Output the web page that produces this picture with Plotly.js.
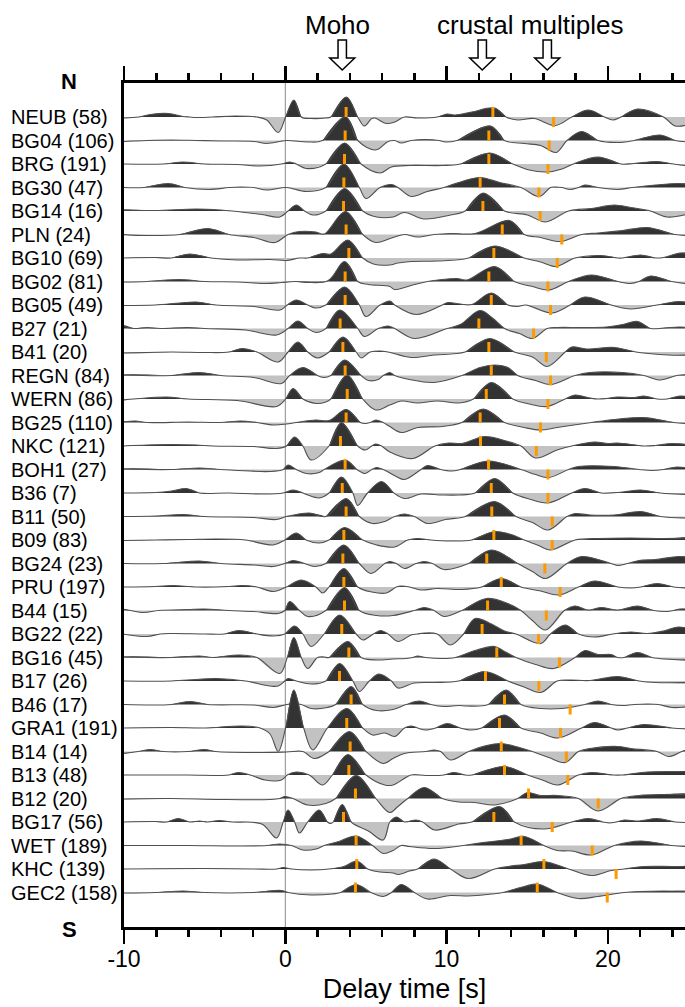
<!DOCTYPE html>
<html><head><meta charset="utf-8">
<script src="https://cdn.plot.ly/plotly-3.0.1.min.js"></script>
<style>html,body{margin:0;padding:0;background:#fff}</style>
</head><body><div id="chart" style="width:685px;height:1007px"></div>
<script>
// ---------------- data ----------------
const stations = ['NEUB','BG04','BRG','BG30','BG14','PLN','BG10','BG02','BG05','B27','B41','REGN','WERN','BG25','NKC','BOH1','B36','B11','B09','BG24','PRU','B44','BG22','BG16','B17','B46','GRA1','B14','B13','B12','BG17','WET','KHC','GEC2'];
const eventCounts = [58,106,191,47,16,24,69,81,49,21,20,84,86,110,121,27,7,50,83,23,197,15,22,45,26,17,191,14,48,20,56,189,139,158];
// picked phase times [s]
const psMoho = [3.77,3.71,3.67,3.63,3.61,3.77,3.94,3.71,3.71,3.40,3.57,3.71,3.84,3.77,3.42,3.71,3.53,3.77,3.63,3.57,3.63,3.67,3.50,3.94,3.36,4.08,3.81,4.02,3.94,4.35,3.61,4.39,4.43,4.35];
const ppps   = [12.87,12.62,12.62,12.08,12.25,13.45,12.93,12.62,12.77,12.0,12.62,12.77,12.46,12.08,12.10,12.6,12.77,12.8,12.93,12.49,13.39,12.54,12.2,13.11,12.41,13.59,13.28,13.39,13.59,15.08,12.93,14.62,16.03,15.62];
const ppss   = [16.63,16.36,16.28,15.72,15.8,17.14,16.86,16.28,16.44,15.39,16.18,16.44,16.28,15.82,15.56,16.28,16.28,16.55,16.55,16.09,17.04,16.18,15.7,17.0,15.72,17.66,17.06,17.42,17.51,19.4,16.55,19.03,20.51,19.96];
const arrowTimes = [3.53, 12.21, 16.24];
const topLabels = ['Moho', 'crustal multiples'];
const xTickVals = [-10, 0, 10, 20];
const xTickText = ['-10', '0', '10', '20'];
const xMinorVals = [-8,-6,-4,-2,2,4,6,8,12,14,16,18,22,24];

// waveforms: [delay time s, amplitude]
const w_NEUB = [[-10.1,-1],[-9.08,0],[-8.37,2.5],[-7.25,3.5],[-6.34,0.5],[-5.93,0],[-5.52,-0.5],[-4.51,0],[-3.08,1],[-1.76,0],[-1.15,-3],[-0.44,-15.5],[0.02,0],[0.53,17],[0.99,0],[1.6,-1.5],[2.51,-1],[2.82,0],[3.78,20],[4.49,0],[4.9,-9],[5.36,-1.5],[5.56,-1],[6.27,-6.5],[6.78,-5],[7.39,0],[8.2,-1],[9.42,0],[10.03,3],[10.54,2],[11.56,5],[12.98,9],[13.69,0],[14.41,-3],[15.42,-1.5],[16.74,-8.5],[17.76,0],[18.78,7],[19.79,0],[20.3,-3],[20.81,0],[21.83,8],[23.45,0],[24.17,-9],[25.08,-7]];
const w_BG04 = [[-10.1,-1],[-8.57,0],[-7.05,0.5],[-5.52,0],[-4.0,-0.5],[-1.96,-1],[-1.15,-3],[0.07,0],[1.39,-1.5],[2.31,0],[3.73,24],[4.49,0],[5.61,-9.5],[6.37,-1],[6.78,0],[7.19,-2.5],[7.8,0],[8.71,1],[9.53,0],[9.93,-1.5],[10.64,0],[12.73,14.5],[13.59,0],[14.81,-3],[15.83,-5],[16.79,-12],[17.46,0],[18.37,9],[19.39,0],[20.61,-2],[21.62,0],[23.25,5.5],[24.17,0],[25.08,-1.5]];
const w_BRG = [[-10.1,0],[-7.56,0],[-6.34,2],[-5.01,0],[-2.98,-0.5],[-1.56,-2],[-0.24,0],[0.27,2],[0.68,0],[1.29,-4.5],[2.51,0],[3.68,21],[4.7,0],[5.87,-9],[6.58,-3],[7.7,-1.5],[9.73,-1.5],[10.85,0],[12.68,11],[14.1,0],[15.12,-6],[16.24,-8],[17.15,-5],[17.86,0],[19.39,7],[20.81,0],[21.62,0.5],[23.05,2.5],[24.07,0],[25.08,-2]];
const w_BG30 = [[-10.1,0],[-8.78,0],[-7.25,4],[-6.23,0],[-4.71,-2],[-3.49,0],[-2.78,0.5],[-1.96,0],[-1.15,-2.5],[0.07,0],[1.29,-4],[2.51,0],[3.63,23.5],[4.59,0],[5.0,-11],[5.87,0],[6.58,3],[6.98,0],[7.8,-9],[8.81,-4],[9.83,0],[10.75,5],[12.07,10],[13.29,5],[14.61,0],[15.73,-9],[16.44,0],[16.74,0.5],[17.15,0],[17.66,-2],[18.17,0],[18.57,2.5],[19.39,0],[20.61,-2],[21.52,0],[22.95,2.5],[24.37,4],[25.08,3]];
const w_BG14 = [[-10.1,1],[-8.06,0.5],[-5.52,2],[-4.0,1],[-3.29,0],[-1.46,-3.5],[-0.34,-6],[0.17,0],[0.68,6],[1.19,0],[1.7,-4],[2.51,0],[3.68,22.5],[4.8,0],[5.66,-6],[6.68,-6],[7.39,-1.5],[8.61,-8],[10.24,-4],[11.15,0],[12.27,18],[13.59,0],[15.02,-4],[16.13,-11],[17.56,0],[18.98,2.5],[20.4,6],[21.42,3.5],[22.64,0],[23.66,-6],[25.08,-2.5]];
const w_PLN = [[-10.1,0],[-8.57,-1],[-6.54,0],[-4.81,6],[-3.49,0],[-1.96,-3],[-0.64,-8],[0.17,0],[0.88,3],[1.9,2.5],[2.41,0.5],[3.73,23],[4.8,0],[5.61,-8],[6.68,-3],[7.39,0],[8.2,-2.5],[9.22,0],[10.24,1],[11.76,1],[13.9,14],[14.81,0],[15.83,-3],[17.05,-7],[18.37,0],[19.39,1.5],[20.91,4],[22.44,7],[24.17,0],[25.08,-1]];
const w_BG10 = [[-10.1,0],[-8.06,0.5],[-7.05,0],[-5.93,4],[-4.61,0],[-2.98,-2],[-0.95,-1.5],[0.07,-2.5],[0.88,0],[1.39,0],[2.31,4.5],[2.82,4],[3.88,18],[4.8,0],[5.46,-6],[6.48,-7],[6.98,-5],[7.8,-3.5],[9.42,-3],[11.36,0],[12.98,12],[14.81,0],[15.83,-4],[16.79,-8.5],[17.96,0],[19.59,2.5],[20.61,0],[20.91,0],[22.03,3],[22.95,0],[23.45,0.5],[24.47,5],[25.08,4]];
const w_BG02 = [[-10.1,-0.5],[-8.57,0],[-6.54,2],[-5.01,0],[-2.98,-0.5],[-1.15,-2],[-0.24,-1],[0.58,0],[2.61,0.5],[3.68,20],[4.49,0],[5.15,-3],[6.48,-5],[6.78,-8],[7.8,-4],[8.81,0],[9.73,2],[10.64,3],[11.25,1.5],[12.98,15],[14.2,0],[15.32,-5],[16.34,-8.5],[17.56,0],[18.98,6.5],[20.61,0],[21.42,-2],[21.93,0],[22.64,5.5],[23.96,0],[25.08,-2.5]];
const w_BG05 = [[-10.1,-0.5],[-8.06,0],[-6.54,2],[-5.52,3],[-4.3,0],[-1.96,-1.5],[-0.34,-5],[0.12,0],[0.68,5],[1.39,0],[1.9,-3],[2.51,0],[3.68,18],[4.59,0],[5.0,-11.5],[5.87,0],[6.48,4],[6.78,0],[8.1,-9.5],[9.73,0],[10.08,2.5],[10.85,1],[11.56,0.5],[12.78,12],[13.8,0],[14.41,-1.5],[14.91,0],[16.54,-8],[17.66,0],[18.57,8],[20.2,0],[21.42,-4],[23.05,0],[24.37,3.5],[25.08,2]];
const w_B27 = [[-10.1,3],[-9.39,0],[-8.57,1],[-7.76,0],[-6.03,1],[-5.01,0],[-2.47,-1.5],[-0.54,-6.5],[0.17,0],[0.78,7.5],[1.39,0],[1.9,-4],[2.51,0],[3.37,18.5],[4.49,0],[4.9,-8],[5.76,0],[6.37,2.5],[6.78,0],[8.0,-10],[10.03,0],[10.85,4],[12.07,18],[12.88,10],[13.59,0],[14.51,-5],[15.32,-10],[16.24,0],[16.85,1],[18.37,1],[19.9,1.5],[20.91,4],[21.83,7],[22.64,0],[23.45,0.5],[24.47,1.5],[25.08,0.5]];
const w_B41 = [[-10.1,-1],[-7.05,0],[-5.01,-0.5],[-3.49,0],[-2.68,3.5],[-1.76,0],[-0.44,-10],[0.17,0],[0.78,10],[1.39,0],[2.0,-6],[2.71,0],[3.58,15],[4.39,0],[4.7,-6],[5.26,0],[5.87,1],[6.37,0],[7.8,-5.5],[9.22,-3],[11.15,0],[12.68,13.5],[14.2,0],[15.32,-5],[16.24,-14.5],[17.35,0],[17.76,5],[18.68,3],[20.4,4.5],[21.73,0],[23.76,-3],[25.08,-3]];
const w_REGN = [[-10.1,0.5],[-7.05,0],[-5.32,3],[-4.0,0],[-1.96,-2],[-0.24,-8],[0.27,0],[1.09,8],[2.0,0],[2.41,-2],[2.82,0],[3.68,15.5],[4.7,0],[5.15,-5],[5.76,-4],[6.07,0],[6.48,3],[6.78,0],[7.7,-4],[9.22,-7],[10.95,0],[12.07,8],[12.98,10.5],[13.8,8],[14.41,0],[15.52,-5],[16.44,-9],[17.96,0],[18.88,3],[20.91,3],[22.23,0],[23.25,-4.5],[24.27,0],[25.08,1]];
const w_WERN = [[-10.1,-1],[-9.39,0],[-7.35,2],[-6.03,0],[-2.98,-1.5],[-0.54,-7.5],[0.02,0],[0.48,10.5],[1.09,0],[1.9,-4.5],[2.51,-3],[2.82,0],[3.83,24],[4.8,0],[5.61,-11],[6.48,-6],[7.19,-2],[8.2,-4],[9.42,-2],[10.75,-4],[11.66,0],[12.78,16.5],[14.1,0],[15.12,-5],[16.24,-7.5],[17.35,0],[17.96,4],[18.88,1],[19.39,0],[19.9,0.5],[20.61,2],[21.62,1.5],[22.23,3],[23.05,0],[23.66,0],[24.47,3],[25.08,2]];
const w_BG25 = [[-10.1,0.5],[-9.28,1.5],[-8.57,0],[-6.03,0.5],[-4.0,0],[-2.78,1.5],[-1.76,0],[-0.74,-2.5],[0.07,-1.5],[0.68,0],[1.9,2.5],[2.71,2],[3.78,13],[4.65,0],[4.95,-1],[5.26,0],[5.61,2.5],[6.07,0],[6.48,-4],[7.19,-10],[8.2,-5],[9.73,-4],[10.95,0],[12.27,13.5],[13.59,0],[14.81,-5],[15.83,-7.5],[16.85,-5],[18.98,0],[20.4,3],[22.23,5],[24.07,0],[25.08,-1]];
const w_NKC = [[-10.1,0],[-8.57,1],[-7.05,1.5],[-5.52,1],[-4.51,0],[-1.96,-0.5],[-0.54,-2.5],[0.07,0],[0.58,9],[1.09,0],[1.6,-14],[2.71,0],[3.48,23.5],[4.49,0],[4.95,-4],[5.36,0],[5.61,2],[5.97,0],[6.48,-6],[7.9,-12.5],[9.27,0],[10.14,3],[10.95,2.5],[12.37,9.5],[13.69,5],[14.61,0],[15.52,-12],[16.85,-4],[17.76,0],[19.18,4],[20.0,2.5],[20.61,3],[22.23,0],[22.95,0.5],[23.96,2.5],[25.08,1]];
const w_BOH1 = [[-10.1,0.5],[-7.05,0],[-5.32,1.5],[-4.0,0],[-0.95,-2],[-0.13,0],[0.17,4.5],[0.68,0],[1.29,-4],[2.1,-3],[2.41,0],[3.73,9.5],[4.44,0],[4.95,-4],[5.36,0],[5.66,2],[6.07,0],[6.88,-7],[7.39,-10],[8.41,0],[8.81,4],[9.63,0],[10.34,-1.5],[10.85,0],[12.58,8.5],[14.61,0],[15.52,-5],[16.34,-8],[17.56,0],[18.17,3],[20.4,3],[21.93,0],[22.74,-1],[23.45,0],[24.27,2.5],[25.08,1]];
const w_B36 = [[-10.1,0],[-8.06,0.5],[-7.05,2],[-6.13,4.5],[-5.32,0],[-3.49,0],[-1.46,-1],[-0.13,0],[0.48,3],[1.09,0],[1.39,-2],[2.1,-5],[2.71,0],[3.48,16],[4.19,0],[4.49,-12.5],[5.1,0],[5.97,11.5],[6.73,0],[7.39,-5.5],[8.41,-1],[9.73,-2],[10.75,-2],[11.76,0],[12.98,14.5],[14.1,0],[15.12,-6],[16.29,-10],[17.76,0],[18.57,4.5],[19.59,0],[20.91,1],[22.03,3],[23.25,0],[25.08,-1.5]];
const w_B11 = [[-10.1,0],[-8.06,0.5],[-6.34,2],[-5.01,0],[-1.96,-1],[-0.54,-3],[0.07,0],[1.49,3.5],[2.51,0],[3.78,18],[4.59,0],[5.41,-7],[6.17,-5],[6.78,0],[7.39,2.5],[8.0,0],[8.81,-7],[9.93,-3],[11.15,0],[12.98,15],[14.3,0],[15.32,-6],[16.29,-13.5],[17.46,0],[17.96,3],[18.88,1.5],[20.4,1.5],[22.03,5],[23.25,0],[25.08,-1.5]];
const w_B09 = [[-10.1,-0.5],[-8.06,0],[-6.03,0.5],[-4.3,1],[-2.47,0],[-0.74,-5],[-0.03,0],[0.68,7],[1.29,0],[2.1,-3],[2.71,0],[3.68,12.5],[4.8,0],[5.66,-5],[6.78,-7],[7.59,0],[8.2,1.5],[9.02,0],[10.24,-1],[11.56,0],[12.98,8.5],[14.1,5],[14.81,0],[15.63,-5],[16.44,-10],[17.96,0],[19.39,1.5],[21.42,2],[23.45,1.5],[25.08,2]];
const w_BG24 = [[-10.1,0],[-7.56,0],[-5.32,2.5],[-4.0,0],[-1.96,-1.5],[-0.74,-3],[-0.03,0],[0.48,3],[1.19,0],[1.8,-3],[2.51,0],[3.63,18.5],[4.59,0],[5.31,-10],[6.17,0],[6.48,2],[6.88,0],[7.39,-5],[8.1,0],[8.61,2],[9.12,0],[9.83,-6],[11.36,0],[12.78,13.5],[14.41,0],[15.32,-8],[16.13,-15],[17.46,0],[18.37,7],[20.2,0],[20.61,-2],[21.22,0],[21.93,3],[22.95,4],[24.37,7],[25.08,6]];
const w_PRU = [[-10.1,0],[-8.06,0.5],[-6.95,1.5],[-5.52,0],[-3.49,0.5],[-2.68,1.5],[-1.76,0],[-0.74,-4.5],[0.07,0],[0.99,7],[1.9,0],[2.31,-6],[2.71,0],[3.63,18.5],[4.49,0],[5.36,-5],[6.27,-6],[6.88,0],[7.19,1],[7.7,0],[8.41,-3],[9.42,-1.5],[10.95,-2.5],[12.17,0],[13.39,8.5],[14.61,0],[15.83,-4],[16.95,-8],[18.17,0],[19.18,6],[20.61,0],[21.42,-1],[22.03,0],[23.05,3.5],[24.07,0],[25.08,-1]];
const w_B44 = [[-10.1,1.5],[-9.59,0],[-8.78,-2],[-7.86,0],[-6.03,1],[-5.01,1.5],[-3.49,0],[-1.96,-1],[-0.44,-3],[-0.03,0],[0.27,9],[0.88,0],[1.39,-6],[2.51,0],[3.68,23],[4.59,0],[5.66,-5],[6.68,-5],[8.0,0],[8.61,3],[9.22,0],[9.83,-6],[10.95,0],[12.47,12],[13.8,7],[14.61,0],[15.32,-10],[16.13,-19.5],[17.3,0],[17.96,4.5],[18.78,0.5],[19.59,3],[20.61,0.5],[21.83,4.5],[22.84,0],[23.66,-1],[24.07,0],[24.47,1.5],[25.08,1]];
const w_BG22 = [[-10.1,0],[-8.57,-2.5],[-7.76,0],[-7.05,0.5],[-5.01,0],[-3.79,0],[-2.88,3.5],[-1.76,0],[-0.74,-2],[-0.03,0],[0.58,8],[1.09,0],[1.6,-12.5],[2.41,0],[3.37,19],[4.39,0],[4.8,-6],[5.46,0],[5.92,3.5],[6.37,0],[6.98,-7.5],[7.8,-1],[8.2,0],[8.61,1],[9.42,0],[10.24,-11],[11.05,0],[11.76,15.5],[12.78,10],[13.59,3],[14.3,0],[15.83,-9.5],[16.44,0],[17.35,9],[18.17,0],[19.18,-3],[20.3,0],[21.42,2],[22.44,0.5],[23.45,3],[24.37,7],[25.08,5]];
const w_BG16 = [[-10.1,0.5],[-7.05,0],[-5.32,1.5],[-4.51,0],[-2.88,2.5],[-1.76,0],[-0.34,-16],[0.12,0],[0.53,20],[0.99,0],[1.39,-11],[2.0,0],[2.41,0.5],[2.71,0],[3.88,16],[4.7,0],[5.66,-2.5],[6.68,-1.5],[7.49,-1],[7.9,0],[8.2,1.5],[8.71,0],[9.73,-1],[10.54,0],[11.76,7],[12.98,11],[13.59,6],[14.3,0],[15.52,-7],[16.64,-11],[17.96,0],[18.57,7],[19.39,3],[20.2,3],[20.61,0],[21.01,0],[21.83,5],[22.74,0],[25.08,-2.5]];
const w_B17 = [[-10.1,0],[-7.05,0],[-5.52,1.5],[-4.3,2.5],[-2.47,0],[-0.95,-5],[-0.44,-5],[-0.03,0],[0.17,2.5],[0.68,0],[1.6,-3],[2.51,0],[3.37,17.5],[4.19,0],[4.59,-10.5],[5.21,0],[5.81,7],[6.58,0],[6.98,-7],[8.0,-2],[9.22,-1.5],[10.75,0],[12.37,9.5],[13.8,0],[14.81,-6],[15.83,-11.5],[16.85,0],[17.66,1],[18.88,0.5],[20.61,4.5],[21.93,0],[22.95,-1.5],[25.08,-1.5]];
const w_B46 = [[-10.1,0],[-7.05,0],[-5.93,3],[-4.81,0],[-1.96,-0.5],[-0.74,-3],[0.07,0],[0.48,1],[0.99,0],[1.6,-4],[2.61,-3],[3.12,0],[4.09,18],[4.8,0],[5.66,-6],[6.68,-5],[7.49,0],[8.31,3.5],[9.02,0],[9.83,-2],[10.75,-1],[11.25,-1.5],[12.58,0],[13.69,14.5],[14.61,0],[15.83,-4],[17.15,-4],[18.57,0],[19.39,3.5],[20.2,0],[20.91,-1],[21.62,0],[22.44,0.5],[23.15,0],[23.96,-3],[25.08,-2]];
const w_GRA1 = [[-10.1,0],[-7.05,0.5],[-5.01,0],[-2.68,2],[-1.56,0],[-0.95,-6],[-0.44,-23.5],[0.02,0],[0.53,38],[1.14,0],[1.7,-22],[2.61,0],[3.83,19.5],[4.8,0],[5.41,-7],[6.17,-5],[6.78,-8.5],[7.39,0],[7.8,2],[8.2,0],[8.71,-2],[9.32,0],[10.03,4.5],[10.85,0],[11.56,-2],[12.17,0],[13.59,13],[14.61,0],[15.83,-5],[16.9,-10],[18.37,0],[19.18,5.5],[20.2,0],[20.61,-2],[21.22,0],[22.23,3.5],[23.96,0],[25.08,-1]];
const w_B14 = [[-10.1,-2],[-9.08,0],[-8.37,2],[-7.56,0],[-6.03,0],[-5.01,2],[-4.3,0],[-1.96,-1],[0.07,-0.5],[1.09,0],[1.8,-7],[2.71,0],[3.98,20],[5.0,0],[6.07,-12],[6.68,-7],[7.39,-2],[8.71,0],[9.22,1.5],[9.63,0],[10.24,-8.5],[11.36,0],[12.47,6],[13.39,8],[14.51,4],[15.32,0],[16.34,-6],[17.35,-11],[18.17,0],[18.88,3],[20.61,5],[21.42,3],[23.05,0],[23.76,-5],[24.58,0],[25.08,3]];
const w_B13 = [[-10.1,0],[-6.03,0],[-4.0,-0.5],[-3.49,0],[-2.88,2.5],[-2.17,0],[-1.25,-5],[-0.24,-5],[0.12,0],[0.68,3],[1.49,0],[2.31,-10],[2.92,0],[3.88,20.5],[5.0,0],[6.17,-10],[6.68,-10],[7.8,0],[8.71,-0.5],[9.83,0],[10.44,2.5],[11.15,0],[11.56,0],[13.59,8.5],[15.02,0],[15.93,-5],[16.9,-10],[18.17,0],[18.98,2.5],[20.3,0],[20.91,0],[22.44,3],[23.96,3.5],[25.08,3]];
const w_B12 = [[-10.1,-0.5],[-7.05,0],[-4.0,-1],[-0.95,-1],[-0.34,0],[-0.03,2],[0.48,0],[1.39,-6.5],[2.51,-5],[3.12,0],[4.39,23],[5.61,0],[6.48,-14],[6.98,-8],[7.59,0],[8.61,11],[9.73,0],[10.75,-3.5],[11.76,-4],[12.98,-6.5],[14.41,0],[15.02,6],[15.83,3],[16.85,3],[18.17,0],[19.39,-12.5],[20.81,0],[21.93,3],[23.45,4],[25.08,4]];
const w_BG17 = [[-10.1,0],[-8.06,0.5],[-7.35,0],[-6.64,3.5],[-5.93,0],[-5.32,1],[-4.81,0],[-4.1,1.5],[-3.29,0],[-1.46,-2],[-0.54,-16],[-0.13,0],[0.17,12],[0.58,0],[0.88,-11],[1.39,0],[2.1,12],[2.61,0],[2.82,-1.5],[2.97,0],[3.53,17.5],[4.09,0],[5.15,-9],[6.07,-18],[6.48,0],[6.88,5],[7.39,0],[8.1,2],[8.51,0],[9.27,-8],[10.75,-2],[11.56,0],[13.29,15.5],[14.2,0],[16.03,-7],[17.76,0],[18.78,3.5],[19.69,0],[20.1,-1],[20.51,0],[21.01,2],[21.93,1],[23.05,3.5],[24.17,0],[25.08,-0.5]];
const w_WET = [[-10.1,0],[-6.03,0],[-2.98,-0.5],[-1.15,0],[-0.34,1.5],[0.38,0],[1.09,-4.5],[1.9,-3.5],[2.41,0],[3.32,4],[4.39,9.5],[5.41,0],[6.07,-8],[6.68,-5],[7.19,0],[7.7,-1],[9.22,-3],[11.05,0],[12.27,3],[13.8,6],[14.81,9],[16.03,0],[16.85,-5],[17.76,-5.5],[18.98,-9.5],[20.4,0],[22.03,4.5],[23.96,0],[25.08,-1]];
const w_KHC = [[-10.1,0],[-5.01,0.5],[-1.96,0],[-0.54,0],[-0.13,1.5],[0.38,0],[1.6,-1],[2.71,0],[3.63,2.5],[4.44,8],[5.1,0],[5.87,-3],[6.68,-4],[6.98,-5.5],[7.7,-2],[8.2,0],[9.22,10],[10.24,0],[11.36,-9.5],[12.98,0],[13.8,2.5],[14.81,4.5],[16.03,7.5],[17.56,0],[18.98,-6.5],[20.2,-1.5],[21.01,0],[22.23,2.5],[23.96,2.5],[25.08,2.5]];
const w_GEC2 = [[-10.1,-0.5],[-8.06,0],[-6.34,1.5],[-5.01,0],[-1.96,0],[-0.24,2],[0.17,0],[1.6,-2.5],[2.92,-1.5],[3.43,0],[4.39,8],[5.31,0],[6.07,-4],[6.58,0],[7.19,8],[8.0,0],[8.81,-6.5],[10.24,-3],[11.36,-3.5],[12.78,-1.5],[13.49,0],[14.81,6],[15.63,8.5],[16.85,0],[18.17,-6],[19.39,-4],[21.01,0],[21.93,1],[23.45,1.5],[25.08,1]];

const waveforms = [w_NEUB,w_BG04,w_BRG,w_BG30,w_BG14,w_PLN,w_BG10,w_BG02,w_BG05,w_B27,w_B41,w_REGN,w_WERN,w_BG25,w_NKC,w_BOH1,w_B36,w_B11,w_B09,w_BG24,w_PRU,w_B44,w_BG22,w_BG16,w_B17,w_B46,w_GRA1,w_B14,w_B13,w_B12,w_BG17,w_WET,w_KHC,w_GEC2];

// ---------------- style / geometry ----------------
const FONT = 'Liberation Sans, Arial, Helvetica, sans-serif';
const AMP = 1/23.5;             // amplitude units -> trace spacing
const XR = [-10, 24.78];
const YR = [-34.468, 1.447];
const W = 685, H = 1007;
const M = {l:124, r:0, t:83, b:80};
const PW = W - M.l - M.r, PH = H - M.t - M.b;
const pxX = px => (px - M.l) / PW;
const pxY = py => (H - M.b - py) / PH;
const tX = t => (t - XR[0]) / (XR[1] - XR[0]);

function withZeros(w){
  const out = [];
  for (let k = 0; k < w.length; k++){
    if (k > 0){
      const t0 = w[k-1][0], a0 = w[k-1][1], t1 = w[k][0], a1 = w[k][1];
      if (a0 * a1 < 0) out.push([t0 + (t1 - t0) * a0 / (a0 - a1), 0]);
    }
    out.push(w[k]);
  }
  return out;
}
function lobes(pts, sign, off){
  const xs = [], ys = [];
  let cur = null;
  const flush = () => { cur.forEach(p => { xs.push(p[0]); ys.push(off + p[1]*AMP); }); xs.push(null); ys.push(null); cur = null; };
  for (let k = 0; k < pts.length; k++){
    const t = pts[k][0], a = pts[k][1];
    if (a * sign > 0){
      if (!cur){ cur = [k > 0 ? [pts[k-1][0], 0] : [t, 0]]; }
      cur.push([t, a]);
    } else if (cur){
      cur.push([t, 0]); flush();
    }
  }
  if (cur){ cur.push([pts[pts.length-1][0], 0]); flush(); }
  return {xs, ys};
}

const data = [];
waveforms.forEach((w, i) => {
  const off = -i;
  const pts = withZeros(w);
  const neg = lobes(pts, -1, off), pos = lobes(pts, 1, off);
  data.push({type:'scatter', x:neg.xs, y:neg.ys, mode:'lines', fill:'toself', fillcolor:'#c2c2c2',
             line:{width:0, shape:'spline', smoothing:1}, hoverinfo:'skip', showlegend:false});
  data.push({type:'scatter', x:pos.xs, y:pos.ys, mode:'lines', fill:'toself', fillcolor:'#333333',
             line:{width:0, shape:'spline', smoothing:1}, hoverinfo:'skip', showlegend:false});
  data.push({type:'scatter', x:pts.map(p => p[0]), y:pts.map(p => off + p[1]*AMP), mode:'lines',
             line:{color:'#505050', width:1.1, shape:'spline', smoothing:1}, hoverinfo:'skip', showlegend:false});
});

// orange phase picks
const tx = [], ty = [];
const TICK = 10 * AMP;
stations.forEach((s, i) => {
  [[psMoho[i], 1], [ppps[i], 1], [ppss[i], -1]].forEach(([t, d]) => {
    tx.push(t, t, null); ty.push(-i, -i + d*TICK, null);
  });
});
data.push({type:'scatter', x:tx, y:ty, mode:'lines', line:{color:'#ff9900', width:3}, hoverinfo:'skip', showlegend:false});
// dummy trace for top axis
data.push({type:'scatter', x:XR, y:[YR[0], YR[0]], xaxis:'x2', mode:'lines', line:{width:0}, hoverinfo:'skip', showlegend:false});

const annotations = stations.map((s, i) => ({
  xref:'paper', yref:'y', x:pxX(9), y:-i, xanchor:'left', yanchor:'middle',
  text: s + ' (' + eventCounts[i] + ')', showarrow:false, font:{family:FONT, size:20, color:'#000'}
}));
annotations.push({xref:'paper', yref:'paper', x:pxX(69), y:pxY(82), text:'<b>N</b>', showarrow:false, xanchor:'center', yanchor:'middle', font:{family:FONT, size:22, color:'#000'}});
annotations.push({xref:'paper', yref:'paper', x:pxX(69), y:pxY(929), text:'<b>S</b>', showarrow:false, xanchor:'center', yanchor:'middle', font:{family:FONT, size:22, color:'#000'}});
annotations.push({xref:'paper', yref:'paper', x:pxX(337), y:pxY(25), text:topLabels[0], showarrow:false, xanchor:'center', yanchor:'middle', font:{family:FONT, size:26, color:'#000'}});
annotations.push({xref:'paper', yref:'paper', x:pxX(530), y:pxY(25), text:topLabels[1], showarrow:false, xanchor:'center', yanchor:'middle', font:{family:FONT, size:26, color:'#000'}});

const shapes = [{type:'line', xref:'x', yref:'paper', x0:0, x1:0, y0:0, y1:1, line:{color:'#8a8a8a', width:1}, layer:'below'}];
arrowTimes.forEach(t => {
  const cx = tX(t), sw = 4.2/PW, hw = 12.5/PW;
  const y0 = pxY(40), y1 = pxY(58), y2 = pxY(70);
  shapes.push({type:'path', xref:'paper', yref:'paper',
    path:`M ${cx-sw},${y0} L ${cx+sw},${y0} L ${cx+sw},${y1} L ${cx+hw},${y1} L ${cx},${y2} L ${cx-hw},${y1} L ${cx-sw},${y1} Z`,
    line:{color:'#000', width:1.5}, fillcolor:'#fff'});
});

const axBase = {range:XR, showline:true, linewidth:3, linecolor:'#000', showgrid:false, zeroline:false,
  ticks:'outside', tickmode:'array', tickvals:xTickVals, ticktext:xTickText, ticklen:14, tickwidth:2.5, tickcolor:'#000',
  minor:{tickmode:'array', tickvals:xMinorVals, ticks:'outside', ticklen:7, tickwidth:2.5, tickcolor:'#000', showgrid:false},
  fixedrange:true};

const layout = {
  width:W, height:H, margin:M, paper_bgcolor:'#fff', plot_bgcolor:'#fff', showlegend:false,
  font:{family:FONT, color:'#000'},
  xaxis: Object.assign({}, axBase, {tickfont:{family:FONT, size:23, color:'#000'}, ticklabelstandoff:-5,
    title:{text:'Delay time [s]', font:{family:FONT, size:27, color:'#000'}, standoff:9}}),
  xaxis2: Object.assign({}, axBase, {overlaying:'x', side:'top', anchor:'y', showticklabels:false}),
  yaxis:{range:YR, showline:true, linewidth:3, linecolor:'#000', showgrid:false, zeroline:false, ticks:'', showticklabels:false, fixedrange:true},
  annotations, shapes
};
Plotly.newPlot('chart', data, layout, {staticPlot:true, displayModeBar:false});
</script></body></html>
